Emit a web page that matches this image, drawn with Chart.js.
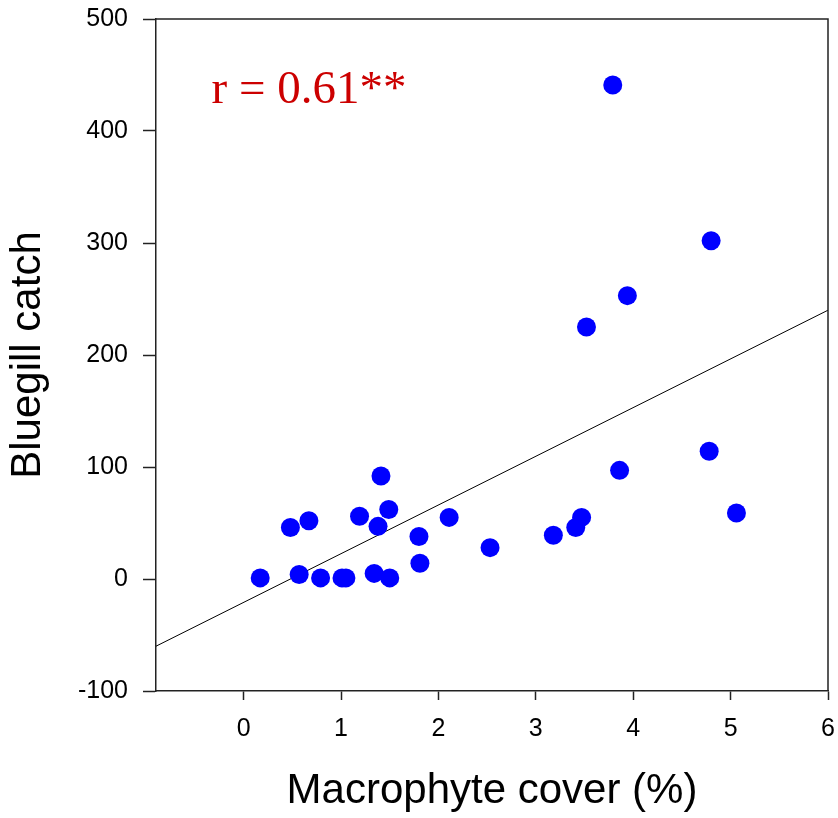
<!DOCTYPE html>
<html>
<head>
<meta charset="utf-8">
<script src="https://cdn.jsdelivr.net/npm/chart.js@4.4.1/dist/chart.umd.min.js"></script>
<style>
  body { margin: 0; background: #fff; }
  canvas { display: block; }
</style>
</head>
<body>
<canvas id="scatterChart" width="838" height="818"></canvas>
<script>
// macrophyte cover (%) vs bluegill catch
const coverValues = [0.17, 0.48, 0.57, 0.67, 0.79, 1.01, 1.05, 1.19, 1.34, 1.38, 1.41, 1.49, 1.50, 1.80,
  1.81, 2.11, 2.53, 3.18, 3.41, 3.47, 3.52, 3.79, 3.86, 3.94, 4.78, 4.80, 5.06];
const catchValues = [1, 46, 4, 52, 1, 1, 1, 56, 5, 47, 92, 62, 1, 38,
  14, 55, 28, 39, 46, 55, 225, 441, 97, 253, 114, 302, 59];

// fitted line ends
const fitX = [-0.9, 6];
const fitY = [-60, 240];

const xTicks = [0, 1, 2, 3, 4, 5, 6];
const yTicks = [-100, 0, 100, 200, 300, 400, 500];

const rLabel = "r = 0.61**";
const rLabelAt = [-0.33, 425]; // x, y in data units

const axisColor = "#222";

// box round the plot + the r label
const framePlugin = {
  id: "frame",
  afterDatasetsDraw(chart) {
    const { ctx, chartArea, scales } = chart;
    ctx.save();
    ctx.strokeStyle = axisColor;
    ctx.lineWidth = 1.5;
    ctx.beginPath();
    ctx.moveTo(chartArea.left, chartArea.top);
    ctx.lineTo(chartArea.right, chartArea.top);
    ctx.lineTo(chartArea.right, chartArea.bottom);
    ctx.stroke();

    ctx.fillStyle = "#CC0000";
    ctx.font = "47px 'Liberation Serif', 'Times New Roman', serif";
    ctx.textAlign = "left";
    ctx.textBaseline = "alphabetic";
    ctx.fillText(rLabel, scales.x.getPixelForValue(rLabelAt[0]), scales.y.getPixelForValue(rLabelAt[1]));
    ctx.restore();
  },
};

// drop the label overhang padding so the plot box sits where we want it
function noPad(scale) {
  scale.paddingTop = 0;
  scale.paddingBottom = 0;
  scale.paddingLeft = 0;
  scale.paddingRight = 0;
}

const ctx = document.getElementById("scatterChart").getContext("2d");

new Chart(ctx, {
  type: "scatter",
  data: {
    datasets: [
      {
        label: "Fit",
        type: "line",
        data: fitX.map((x, i) => ({ x: x, y: fitY[i] })),
        borderColor: "#000",
        borderWidth: 1,
        pointRadius: 0,
        fill: false,
        order: 2,
      },
      {
        label: "Bluegill",
        data: coverValues.map((x, i) => ({ x: x, y: catchValues[i] })),
        backgroundColor: "#0000FF",
        borderColor: "#0000FF",
        borderWidth: 0,
        pointRadius: 9.5,
        order: 1,
      },
    ],
  },
  options: {
    responsive: false,
    animation: false,
    layout: { padding: { top: 19, right: 10, left: 0, bottom: 0 } },
    plugins: {
      legend: { display: false },
      tooltip: { enabled: false },
    },
    scales: {
      x: {
        type: "linear",
        min: -0.9,
        max: 6,
        afterBuildTicks: (scale) => {
          scale.ticks = xTicks.map((v) => ({ value: v }));
        },
        afterFit: (scale) => {
          scale.height = 127;
          noPad(scale);
        },
        grid: { drawOnChartArea: false, drawTicks: true, tickLength: 9, tickColor: axisColor, tickWidth: 1.5 },
        border: { display: true, color: axisColor, width: 1.5 },
        ticks: {
          color: "#000",
          padding: 14,
          maxRotation: 0,
          font: { family: "'Liberation Sans', Arial, sans-serif", size: 25 },
        },
        title: {
          display: true,
          text: "Macrophyte cover (%)",
          color: "#000",
          padding: { top: 0, bottom: 1 },
          font: { family: "'Liberation Sans', Arial, sans-serif", size: 42 },
        },
      },
      y: {
        type: "linear",
        min: -100,
        max: 500,
        afterBuildTicks: (scale) => {
          scale.ticks = yTicks.map((v) => ({ value: v }));
        },
        afterFit: (scale) => {
          scale.width = 156;
          noPad(scale);
        },
        grid: { drawOnChartArea: false, drawTicks: true, tickLength: 13, tickColor: axisColor, tickWidth: 1.5 },
        border: { display: true, color: axisColor, width: 1.5 },
        ticks: {
          color: "#000",
          padding: 15,
          font: { family: "'Liberation Sans', Arial, sans-serif", size: 25 },
        },
        title: {
          display: true,
          text: "Bluegill catch",
          color: "#000",
          padding: { top: 3, bottom: 0 },
          font: { family: "'Liberation Sans', Arial, sans-serif", size: 42 },
        },
      },
    },
  },
  plugins: [framePlugin],
});
</script>
</body>
</html>
